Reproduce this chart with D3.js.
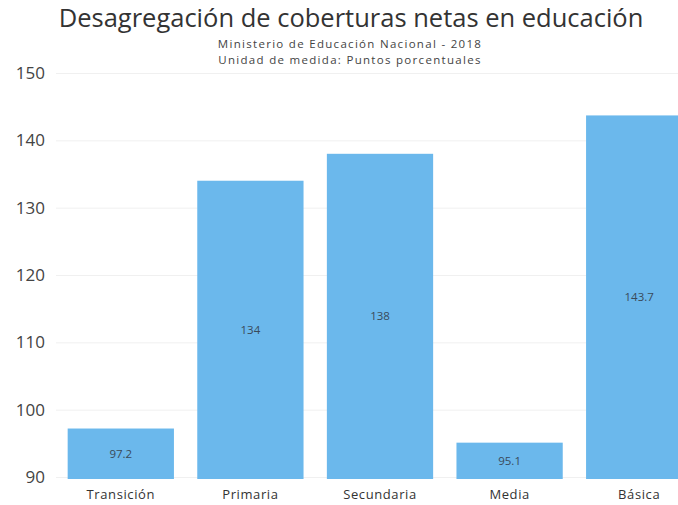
<!DOCTYPE html>
<html>
<meta charset="utf-8">
<head>
    <title>Desagregación de coberturas netas en educación</title>
    <script src="https://d3js.org/d3.v7.min.js"></script>
    <style>
    body { margin: 0; background: #fff; }
    text { font-family: "Open Sans", "Noto Sans", sans-serif; }
    </style>
</head>
<body>
<script>

// Data
var categories = ["Transición", "Primaria", "Secundaria", "Media", "Básica"];
var values = [97.2, 134, 138, 95.1, 143.7];
var yTicks = [90, 100, 110, 120, 130, 140, 150];

var width = 678;
var height = 505;

var svg = d3.select("body")
    .append("svg")
    .attr("width", width)
    .attr("height", height);

// Scales (the last bar runs off the right edge, like the original)
var x = d3.scaleBand()
    .domain(categories)
    .range([56, 704])
    .paddingInner(0.18)
    .paddingOuter(0.09);

var y = d3.scaleLinear()
    .domain([90, 150])
    .range([477, 73]);

// Grid lines
svg.append("g")
    .selectAll("line")
    .data(yTicks)
    .enter()
    .append("line")
    .attr("x1", 56)
    .attr("x2", width)
    .attr("y1", function(d) { return y(d) + 0.5; })
    .attr("y2", function(d) { return y(d) + 0.5; })
    .attr("stroke", "#f0f0f0")
    .attr("stroke-width", 1);

// Y axis labels
var yAxis = d3.axisLeft(y)
    .tickValues(yTicks)
    .tickSize(0)
    .tickPadding(0);

svg.append("g")
    .attr("transform", "translate(45,0)")
    .call(yAxis)
    .call(function(g) { g.select(".domain").remove(); })
    .selectAll("text")
    .attr("font-size", 17)
    .attr("fill", "#444");

// Bars
svg.append("g")
    .selectAll("rect")
    .data(values)
    .enter()
    .append("rect")
    .attr("x", function(d, i) { return x(categories[i]); })
    .attr("y", function(d) { return y(d); })
    .attr("width", x.bandwidth())
    .attr("height", function(d) { return y(90) - y(d) + 2; })
    .attr("fill", "#6bb8ec");

// Value labels in the middle of each bar
svg.append("g")
    .selectAll("text")
    .data(values)
    .enter()
    .append("text")
    .attr("x", function(d, i) { return x(categories[i]) + x.bandwidth() / 2; })
    .attr("y", function(d) { return (y(d) + y(90) + 2) / 2 + 4; })
    .attr("text-anchor", "middle")
    .attr("font-size", 11.5)
    .attr("fill", "#3a4a5a")
    .text(function(d) { return d; });

// Category labels
var xAxis = d3.axisBottom(x)
    .tickSize(0)
    .tickPadding(0);

svg.append("g")
    .attr("transform", "translate(0,490)")
    .call(xAxis)
    .call(function(g) { g.select(".domain").remove(); })
    .selectAll("text")
    .attr("font-size", 13)
    .attr("letter-spacing", 0.6)
    .attr("fill", "#333");

// Titles
svg.append("text")
    .attr("x", 351)
    .attr("y", 27)
    .attr("text-anchor", "middle")
    .attr("font-size", 25.5)
    .attr("fill", "#333")
    .text("Desagregación de coberturas netas en educación");

svg.append("text")
    .attr("x", 350)
    .attr("y", 48)
    .attr("text-anchor", "middle")
    .attr("font-size", 11.5)
    .attr("letter-spacing", 1.3)
    .attr("fill", "#444")
    .text("Ministerio de Educación Nacional - 2018");

svg.append("text")
    .attr("x", 350)
    .attr("y", 64)
    .attr("text-anchor", "middle")
    .attr("font-size", 11.5)
    .attr("letter-spacing", 1.3)
    .attr("fill", "#444")
    .text("Unidad de medida: Puntos porcentuales");

</script>
</body>
</html>
